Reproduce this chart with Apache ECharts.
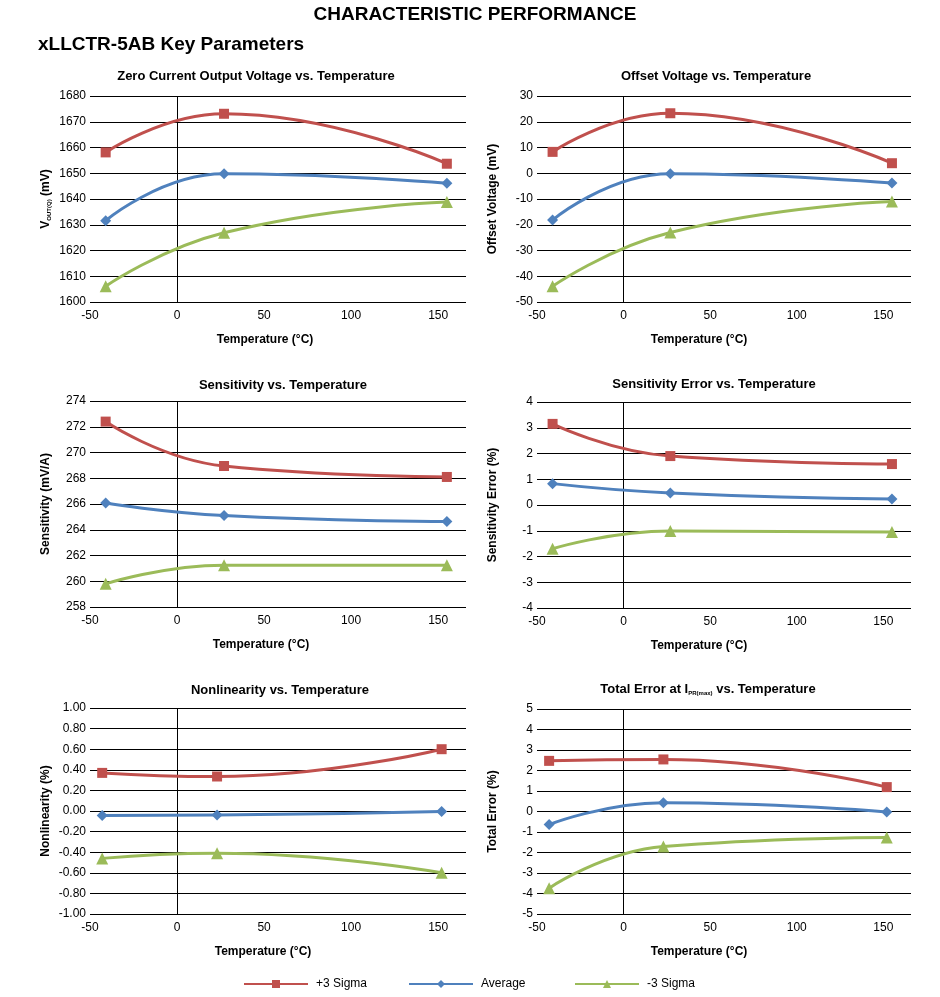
<!DOCTYPE html>
<html><head><meta charset="utf-8">
<script src="https://cdn.jsdelivr.net/npm/echarts@6/dist/echarts.min.js"></script>
<style>html,body{margin:0;padding:0;background:#fff}#c{width:940px;height:997px}</style>
</head><body><div id="c"></div><script>
// ---------- data ----------
const seriesNames = ['+3 Sigma', 'Average', '-3 Sigma'];
const tempA = [-41, 27, 155];   // temperatures used in the first four panels
const tempB = [-43, 23, 152];   // temperatures used in the last two panels
const xTicks = [-50, 0, 50, 100, 150];

const voutPlus  = [1658.1, 1673.1, 1653.7];
const voutAvg   = [1631.6, 1649.8, 1646.1];
const voutMinus = [1606.1, 1626.9, 1638.8];
const voutTicks = [1600, 1680, 10];

const offPlus  = [8.3, 23.3, 3.9];
const offAvg   = [-18.2, -0.2, -3.8];
const offMinus = [-43.9, -23.0, -11.0];
const offTicks = [-50, 30, 10];

const sensPlus  = [272.4, 268.95, 268.1];
const sensAvg   = [266.07, 265.1, 264.65];
const sensMinus = [259.8, 261.25, 261.25];
const sensTicks = [258, 274, 2];

const sensErrPlus  = [3.15, 1.9, 1.59];
const sensErrAvg   = [0.83, 0.47, 0.23];
const sensErrMinus = [-1.7, -1.01, -1.05];
const sensErrTicks = [-4, 4, 1];

const nonlinPlus  = [0.37, 0.335, 0.60];
const nonlinAvg   = [-0.044, -0.04, -0.005];
const nonlinMinus = [-0.46, -0.41, -0.60];
const nonlinTicks = [-1, 1, 0.2];

const totPlus  = [2.47, 2.54, 1.19];
const totAvg   = [-0.64, 0.43, -0.02];
const totMinus = [-3.74, -1.71, -1.27];
const totTicks = [-5, 5, 1];

// ---------- styling / layout ----------
const NARROW = "'Liberation Sans Narrow','Arial Narrow','Liberation Sans',Arial,sans-serif";
const MAIN = "'Liberation Sans',Arial,Helvetica,sans-serif";
const colors = ['#C0504D', '#4F81BD', '#9BBB59'];
const symbols = ['rect', 'diamond', 'triangle'];
const symbolSizes = [10, 11, 12];
const X_MAX = 166;
const FS = 12;

const panels = [
  {title: 'Zero Current Output Voltage vs. Temperature', yName: '{b|V}{s|OUT(Q)}{b| (mV)}', x: tempA, ys: [voutPlus, voutAvg, voutMinus], t: voutTicks, dec: 0,
   grid: {left: 90, top: 96, width: 376, height: 206}, tx: 256, ty: 70, xShift: 26},
  {title: 'Offset Voltage vs. Temperature', yName: '{b|Offset Voltage (mV)}', x: tempA, ys: [offPlus, offAvg, offMinus], t: offTicks, dec: 0,
   grid: {left: 537, top: 96, width: 374, height: 206}, tx: 716, ty: 70, xShift: 50},
  {title: 'Sensitivity vs. Temperature', yName: '{b|Sensitivity (mV/A)}', x: tempA, ys: [sensPlus, sensAvg, sensMinus], t: sensTicks, dec: 0,
   grid: {left: 90, top: 401, width: 376, height: 206}, tx: 283, ty: 379, xShift: 34},
  {title: 'Sensitivity Error vs. Temperature', yName: '{b|Sensitivity Error (%)}', x: tempA, ys: [sensErrPlus, sensErrAvg, sensErrMinus], t: sensErrTicks, dec: 0,
   grid: {left: 537, top: 402, width: 374, height: 206}, tx: 714, ty: 378, xShift: 50},
  {title: 'Nonlinearity vs. Temperature', yName: '{b|Nonlinearity (%)}', x: tempB, ys: [nonlinPlus, nonlinAvg, nonlinMinus], t: nonlinTicks, dec: 2,
   grid: {left: 90, top: 708, width: 376, height: 206}, tx: 280, ty: 684, xShift: 30},
  {title: '{t|Total Error at I}{s|PR(max)}{t| vs. Temperature}', yName: '{b|Total Error (%)}', x: tempB, ys: [totPlus, totAvg, totMinus], t: totTicks, dec: 0,
   grid: {left: 537, top: 709, width: 374, height: 205}, tx: 708, ty: 682, xShift: 50}
];

const titles = [
  {text: 'CHARACTERISTIC PERFORMANCE', left: 475, top: 5, textAlign: 'center', padding: 0,
   textStyle: {fontFamily: MAIN, fontWeight: 'bold', fontSize: 19, color: '#000'}},
  {text: 'xLLCTR-5AB Key Parameters', left: 38, top: 35, padding: 0,
   textStyle: {fontFamily: MAIN, fontWeight: 'bold', fontSize: 19, color: '#000'}}
];

const grids = [], xAxes = [], yAxes = [], series = [];
panels.forEach((p, k) => {
  titles.push({
    text: p.title, left: p.tx, top: p.ty, textAlign: 'center', padding: 0,
    textStyle: {fontFamily: NARROW, fontWeight: 'bold', fontSize: FS + 1, color: '#000',
      rich: {t: {fontFamily: NARROW, fontWeight: 'bold', fontSize: FS + 1, color: '#000'},
             s: {fontFamily: NARROW, fontWeight: 'bold', fontSize: 6, color: '#000', padding: [8, 0, 0, 0]}}}
  });
  grids.push(Object.assign({containLabel: false}, p.grid));
  xAxes.push({
    type: 'value', gridIndex: k, min: xTicks[0], max: X_MAX, interval: xTicks[1] - xTicks[0],
    name: 'Temperature (°C)', nameLocation: 'middle', nameGap: 32,
    nameTextStyle: {fontFamily: NARROW, fontWeight: 'bold', fontSize: FS, color: '#000', padding: [0, p.xShift, 0, 0]},
    axisLine: {show: false}, axisTick: {show: false}, splitLine: {show: false},
    axisLabel: {fontFamily: NARROW, fontSize: FS, color: '#000', margin: 8,
      formatter: v => (xTicks.indexOf(Math.round(v)) >= 0 && Math.abs(v - Math.round(v)) < 1e-6) ? String(Math.round(v)) : ''}
  });
  yAxes.push({
    type: 'value', gridIndex: k, min: p.t[0], max: p.t[1], interval: p.t[2],
    name: p.yName, nameLocation: 'middle', nameRotate: 90, nameGap: 38,
    nameTextStyle: {fontFamily: NARROW, fontWeight: 'bold', fontSize: FS, color: '#000',
      rich: {b: {fontFamily: NARROW, fontWeight: 'bold', fontSize: FS, color: '#000'},
             s: {fontFamily: NARROW, fontWeight: 'bold', fontSize: 6, color: '#000', padding: [7, 0, 0, 0]}}},
    axisLine: {show: false}, axisTick: {show: false},
    splitLine: {show: true, lineStyle: {color: '#000', width: 1, type: 'solid'}},
    axisLabel: {fontFamily: NARROW, fontSize: FS, color: '#000', margin: 4,
      formatter: v => { const r = Math.abs(v) < 1e-9 ? 0 : v; return r.toFixed(p.dec); }}
  });
  p.ys.forEach((vals, i) => {
    const s = {
      name: seriesNames[i], type: 'line', xAxisIndex: k, yAxisIndex: k,
      data: p.x.map((xv, j) => [xv, vals[j]]),
      smooth: 0.5, symbol: symbols[i], symbolSize: symbolSizes[i], showSymbol: true,
      lineStyle: {color: colors[i], width: 3}, itemStyle: {color: colors[i]},
      animation: false, z: 3 + (2 - i)
    };
    if (i === 0) {
      s.markLine = {silent: true, symbol: ['none', 'none'], label: {show: false},
        lineStyle: {color: '#000', width: 1, type: 'solid'}, animation: false,
        data: [{xAxis: 0}], z: 1};
    }
    series.push(s);
  });
});

const legendLefts = [243, 408, 574];
const legends = seriesNames.map((n, i) => ({
  data: [n], left: legendLefts[i], top: 978, itemWidth: 64, itemHeight: 10, itemGap: 0, padding: 0,
  textStyle: {fontFamily: NARROW, fontSize: FS, color: '#000', padding: [0, 0, 0, 3]}
}));

const chart = echarts.init(document.getElementById('c'), null, {renderer: 'canvas'});
chart.setOption({
  backgroundColor: '#fff', animation: false,
  title: titles, legend: legends, grid: grids, xAxis: xAxes, yAxis: yAxes, series: series
});
</script></body></html>
